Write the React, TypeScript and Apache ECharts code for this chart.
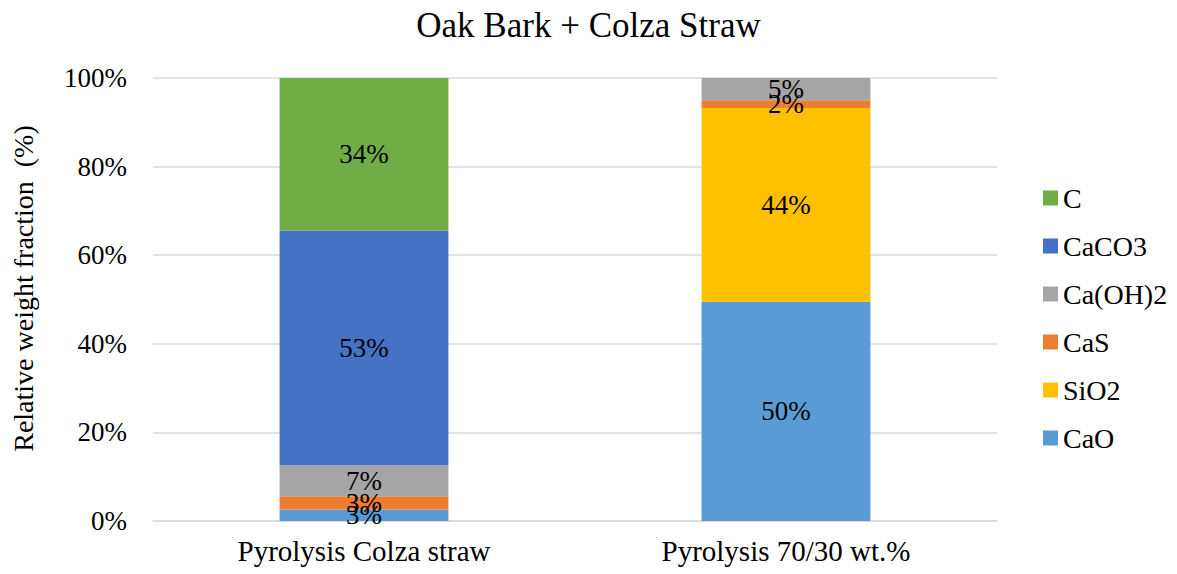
import React, { useEffect, useRef } from "react";
import * as echarts from "echarts";

const categories = ["Pyrolysis Colza straw", "Pyrolysis 70/30 wt.%"];
const seriesNames = ["CaO", "SiO2", "CaS", "Ca(OH)2", "CaCO3", "C"];
const colors = ["#5B9BD5", "#FFC000", "#ED7D31", "#A5A5A5", "#4472C4", "#70AD47"];
const CaO = [2.6, 49.5];
const SiO2 = [0, 43.7];
const CaS = [3.0, 1.8];
const CaOH2 = [7.0, 5.0];
const CaCO3 = [53.0, 0];
const C = [34.4, 0];
const legendOrder = ["C", "CaCO3", "Ca(OH)2", "CaS", "SiO2", "CaO"];
const values = [CaO, SiO2, CaS, CaOH2, CaCO3, C];

const FONT = "Liberation Serif";

export default function App() {
  const ref = useRef<HTMLDivElement>(null);
  useEffect(() => {
    document.body.style.margin = "0";
    const chart = echarts.init(ref.current!, null, { renderer: "svg" });
    chart.setOption({
      animation: false,
      title: {
        text: "Oak Bark + Colza Straw",
        left: "center",
        top: 3,
        textStyle: { fontFamily: FONT, fontSize: 35, fontWeight: "normal", color: "#000" },
      },
      grid: { left: 153, right: 180, top: 78, bottom: 53, containLabel: false },
      legend: {
        orient: "vertical",
        left: 1038,
        top: 179,
        itemWidth: 15,
        itemHeight: 15,
        itemGap: 20,
        icon: "rect",
        data: legendOrder,
        textStyle: { fontFamily: FONT, fontSize: 28, color: "#000" },
      },
      xAxis: {
        type: "category",
        data: categories,
        axisLine: { lineStyle: { color: "#d9d9d9", width: 1.5 } },
        axisTick: { show: false },
        axisLabel: { fontFamily: FONT, fontSize: 29, color: "#000", margin: 15 },
      },
      yAxis: {
        type: "value",
        min: 0,
        max: 100,
        interval: 20,
        name: "Relative weight fraction  (%)",
        nameLocation: "middle",
        nameGap: 116,
        nameTextStyle: { fontFamily: FONT, fontSize: 28, color: "#000", padding: [0, 0, 0, 22] },
        axisLabel: { formatter: "{value}%", fontFamily: FONT, fontSize: 27, color: "#000", margin: 26 },
        splitLine: { lineStyle: { color: "#d9d9d9", width: 1.5 } },
        axisLine: { show: false },
        axisTick: { show: false },
      },
      series: seriesNames.map((name, i) => ({
        name,
        type: "bar",
        stack: "total",
        barWidth: "40%",
        itemStyle: { color: colors[i] },
        label: {
          show: true,
          position: "inside",
          fontFamily: FONT,
          fontSize: 27,
          color: "#000",
          formatter: (p: any) => (p.value > 0 ? Math.round(p.value) + "%" : ""),
        },
        data: values[i],
      })),
    });
    return () => chart.dispose();
  }, []);
  return <div ref={ref} style={{ width: 1177, height: 574 }} />;
}
